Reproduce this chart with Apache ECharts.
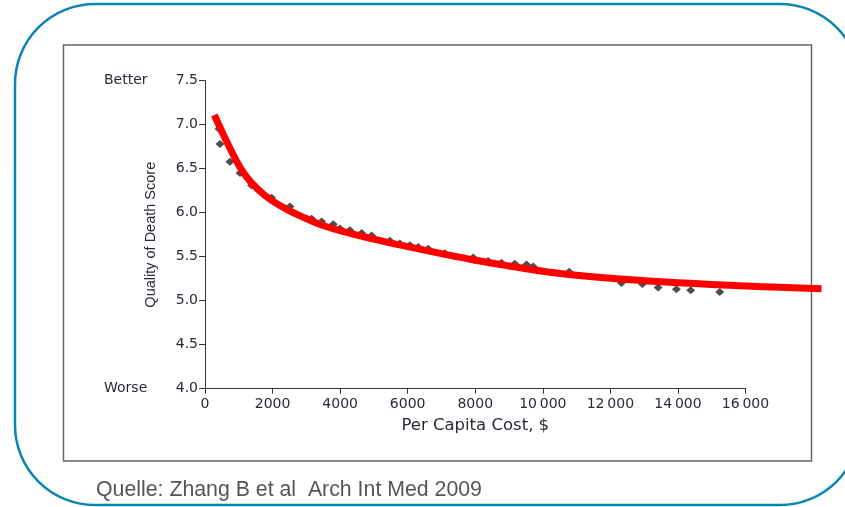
<!DOCTYPE html>
<html>
<head>
<meta charset="utf-8">
<script src="https://cdn.jsdelivr.net/npm/echarts@6/dist/echarts.min.js"></script>
<style>
html,body{margin:0;padding:0;background:#fff;}
#chart{width:845px;height:507px;}
</style>
</head>
<body>
<div id="chart"></div>
<script>
// Scatter observations (per capita cost $, quality of death score)
const scatterCost = [415, 444, 740, 1036, 1380, 1627, 1972, 2515, 3156, 3452, 3797, 3994, 4290, 4636, 4931, 5473, 5769, 6065, 6312, 6607, 7100, 7939, 8383, 8777, 9171, 9517, 9714, 10779, 12327, 12948, 13412, 13954, 14379, 15237];
const scatterScore = [6.95, 6.78, 6.58, 6.45, 6.31, 6.25, 6.17, 6.07, 5.93, 5.90, 5.87, 5.82, 5.80, 5.77, 5.74, 5.68, 5.65, 5.63, 5.61, 5.59, 5.54, 5.49, 5.45, 5.43, 5.42, 5.41, 5.39, 5.33, 5.20, 5.19, 5.15, 5.13, 5.12, 5.10];
// Fitted curve (extends past the last axis tick, as in the original)
const fitCost = [276, 590, 888, 1183, 1578, 1972, 2465, 2959, 3452, 4043, 5000, 6000, 7000, 8000, 9000, 10000, 11000, 12000, 13000, 14000, 15000, 16000, 17000, 18250];
const fitScore = [7.11, 6.85, 6.62, 6.43, 6.26, 6.14, 6.03, 5.94, 5.86, 5.79, 5.70, 5.615, 5.535, 5.46, 5.395, 5.335, 5.29, 5.255, 5.228, 5.205, 5.185, 5.168, 5.152, 5.135];
const xTicks = [0, 2000, 4000, 6000, 8000, 10000, 12000, 14000, 16000];
const yTicks = [4.0, 4.5, 5.0, 5.5, 6.0, 6.5, 7.0, 7.5];
const fitExtentMax = 18300;

const dejavu = "'DejaVu Sans', 'Liberation Sans', Arial, sans-serif";
const textColor = '#2a2a38';

const plotLeft = 205, plotRight = 99.5, plotTop = 80.7, plotBottom = 118.3;
const plotWidth = 845 - plotLeft - plotRight;
const fitWidth = plotWidth * fitExtentMax / xTicks[xTicks.length - 1];

const chart = echarts.init(document.getElementById('chart'), null, {renderer: 'canvas'});
chart.setOption({
  backgroundColor: '#fff',
  animation: false,
  grid: [
    {left: plotLeft, top: plotTop, right: plotRight, bottom: plotBottom, containLabel: false},
    {left: plotLeft, top: plotTop, width: fitWidth, bottom: plotBottom, containLabel: false}
  ],
  xAxis: [{
    type: 'value', gridIndex: 0, min: xTicks[0], max: xTicks[xTicks.length - 1], interval: 2000,
    name: 'Per Capita Cost, $', nameLocation: 'middle', nameGap: 29,
    nameTextStyle: {fontFamily: dejavu, fontSize: 16.5, color: textColor},
    axisLine: {show: true, lineStyle: {color: '#333', width: 1}},
    axisTick: {show: true, length: 5, lineStyle: {color: '#333'}},
    splitLine: {show: false},
    axisLabel: {
      fontFamily: dejavu, fontSize: 14, color: textColor, margin: 9,
      formatter: v => v >= 10000 ? String(v).replace(/(\d{2})(\d{3})$/, '$1\u2009$2') : String(v)
    }
  }, {
    type: 'value', gridIndex: 1, min: 0, max: fitExtentMax, show: false
  }],
  yAxis: [{
    type: 'value', gridIndex: 0, min: yTicks[0], max: yTicks[yTicks.length - 1], interval: 0.5,
    name: 'Quality of Death Score', nameLocation: 'middle', nameGap: 47, nameRotate: 90,
    nameTextStyle: {fontFamily: "'Liberation Sans', Arial, sans-serif", fontSize: 14.5, color: textColor},
    axisLine: {show: true, lineStyle: {color: '#333', width: 1}},
    axisTick: {show: true, length: 6, lineStyle: {color: '#333'}},
    splitLine: {show: false},
    axisLabel: {fontFamily: dejavu, fontSize: 14, color: textColor, margin: 7, formatter: v => v.toFixed(1)}
  }, {
    type: 'value', gridIndex: 1, min: yTicks[0], max: yTicks[yTicks.length - 1], show: false
  }],
  series: [
    {
      type: 'scatter', xAxisIndex: 0, yAxisIndex: 0, symbol: 'diamond', symbolSize: [9, 8], z: 2,
      itemStyle: {color: '#222'},
      data: scatterCost.map((c, i) => [c, scatterScore[i]])
    },
    {
      type: 'line', xAxisIndex: 1, yAxisIndex: 1, smooth: 0.4,
      showSymbol: false, z: 3,
      lineStyle: {color: '#ff0000', width: 7, cap: 'butt', join: 'round'},
      data: fitCost.map((c, i) => [c, fitScore[i]])
    }
  ],
  graphic: [
    {type: 'rect', shape: {x: 15, y: 4, width: 845, height: 501, r: 80},
     style: {fill: null, stroke: '#0a84b2', lineWidth: 2.5}, z: 0, silent: true},
    {type: 'rect', shape: {x: 63.5, y: 45, width: 748, height: 416},
     style: {fill: null, stroke: '#666', lineWidth: 1.5}, z: 0, silent: true},
    {type: 'text', x: 104, y: 80, style: {text: 'Better', font: "14px " + dejavu, fill: textColor, textVerticalAlign: 'middle'}},
    {type: 'text', x: 104, y: 388, style: {text: 'Worse', font: "14px " + dejavu, fill: textColor, textVerticalAlign: 'middle'}},
    {type: 'text', x: 96, y: 490, style: {text: 'Quelle: Zhang B et al  Arch Int Med 2009', font: "21.3px 'Liberation Sans', Arial, sans-serif", fill: '#555', textVerticalAlign: 'middle'}}
  ]
});
</script>
</body>
</html>
